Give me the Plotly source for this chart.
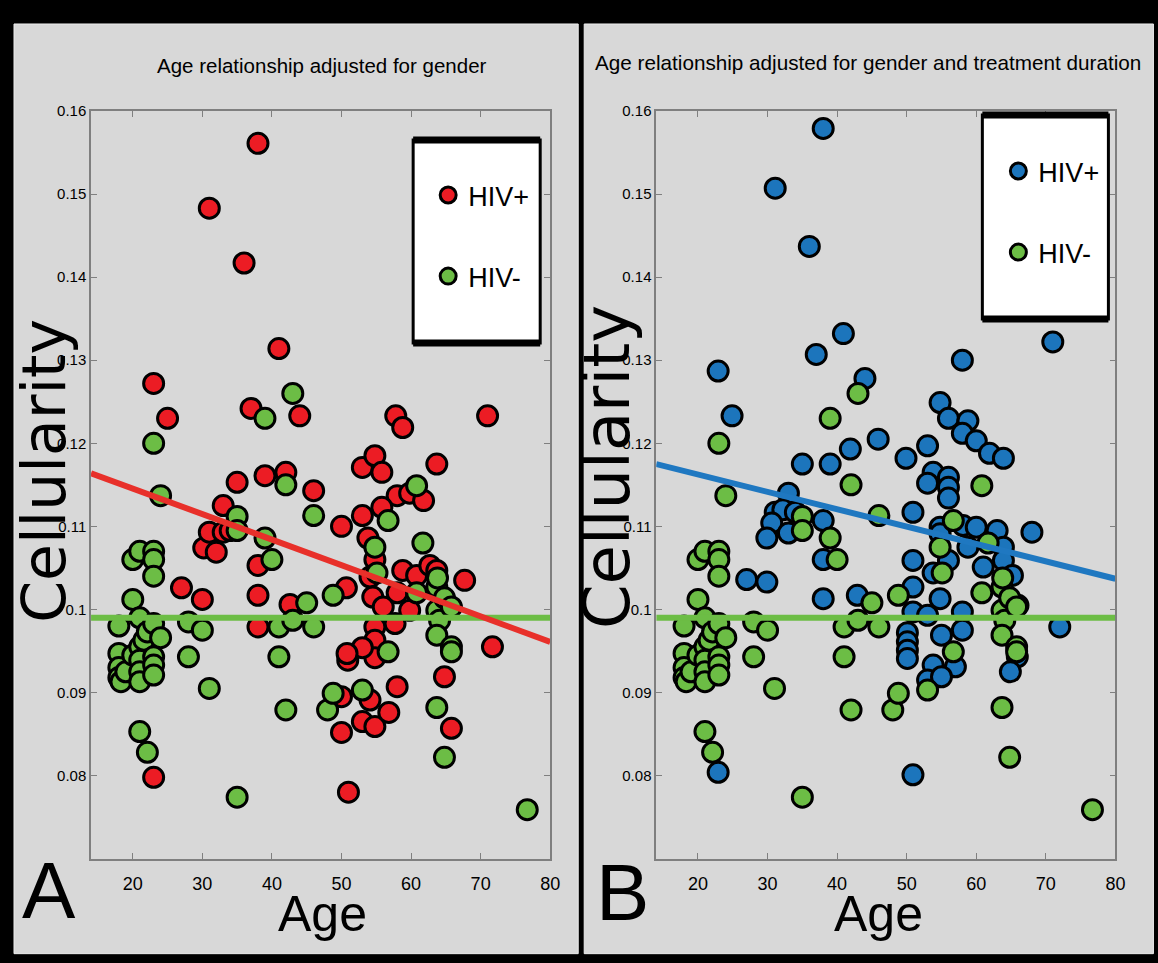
import plotly.graph_objects as go

# ---------------- data ----------------
# HIV- subjects (same in both panels)
age_hiv_neg = [18, 18, 18, 18, 18.3, 19, 20, 20, 20, 21, 21, 21, 21, 21, 21, 21,
               21.6, 22.1, 22.1, 23, 23, 23, 23, 23, 23, 23, 23, 24, 24, 28, 28,
               30, 31, 35, 35, 35, 39, 39, 40, 41, 41, 42, 42, 43, 43, 45, 46, 46,
               48, 48.8, 48.8, 53, 54.8, 55.1, 56.7, 56.7, 60.8, 60.8, 61.7, 63.7,
               63.8, 63.7, 64.1, 63.7, 63.7, 64.8, 65.8, 65.8, 65.8, 64.8, 76.7]
cell_hiv_neg = [0.098, 0.0947, 0.093, 0.0918, 0.0913, 0.0925, 0.106, 0.1012, 0.0945,
                0.107, 0.099, 0.0955, 0.0939, 0.0925, 0.0913, 0.0853, 0.0963, 0.0973,
                0.0828, 0.120, 0.107, 0.106, 0.104, 0.0983, 0.0943, 0.0933, 0.0921,
                0.1137, 0.0966, 0.0985, 0.0943, 0.0975, 0.0905, 0.1112, 0.1095, 0.0774,
                0.123, 0.1086, 0.106, 0.0979, 0.0943, 0.115, 0.0879, 0.126, 0.0987,
                0.1008, 0.1113, 0.0979, 0.0879, 0.1017, 0.0899, 0.0903, 0.1075, 0.1044,
                0.1107, 0.0949, 0.1149, 0.102, 0.108, 0.1027, 0.1038, 0.0999, 0.0987,
                0.0969, 0.0882, 0.1014, 0.1003, 0.0955, 0.0949, 0.0822, 0.0759]

# HIV+ subjects, panel A (adjusted for gender)
age_hiv_pos_a = [38, 31, 36, 41, 23, 25, 37, 44, 35, 39, 42, 46, 50, 33, 30.2, 31,
                 32, 33, 34, 38, 38, 27, 30, 42.6, 50.7, 38, 23, 50, 50.9, 50, 51,
                 71, 57.8, 58.8, 53, 54.8, 55.8, 63.7, 58, 59.8, 61.8, 55.8, 53, 53.8,
                 54.8, 58.8, 60.8, 62.7, 63.7, 67.7, 54.1, 54.5, 58, 56, 59.8, 71.7,
                 54.8, 54.8, 54.8, 53, 57.7, 50.8, 54.1, 58, 53, 54.8, 56.8, 64.8, 65.8]
cell_hiv_pos_a = [0.1561, 0.1483, 0.1417, 0.1314, 0.1272, 0.123, 0.1242, 0.1233, 0.1153,
                  0.1161, 0.1165, 0.1143, 0.110, 0.1125, 0.1074, 0.1093, 0.1069, 0.1093,
                  0.1095, 0.1053, 0.1017, 0.1026, 0.1012, 0.1006, 0.1026, 0.0979, 0.0798,
                  0.0895, 0.0939, 0.0852, 0.078, 0.1233, 0.1233, 0.1219, 0.1171, 0.1185,
                  0.1165, 0.1175, 0.1137, 0.114, 0.1131, 0.1123, 0.1113, 0.1086, 0.106,
                  0.1047, 0.1041, 0.1053, 0.1047, 0.1035, 0.1039, 0.1015, 0.102, 0.1003,
                  0.0999, 0.0955, 0.0979, 0.0963, 0.0942, 0.0954, 0.0983, 0.0947, 0.0891,
                  0.0907, 0.0865, 0.0859, 0.0876, 0.0919, 0.0857]

# HIV+ subjects, panel B (adjusted for gender and treatment duration)
age_hiv_pos_b = [38, 31.1, 36, 40.9, 71, 37, 58, 22.9, 44, 54.8, 24.9, 56, 58.8, 58,
                 45.9, 60, 41.9, 53, 61.9, 63.9, 49.9, 35, 39, 53.8, 56, 53, 56, 33,
                 56, 31.1, 32.2, 34, 50.9, 38, 30.6, 58.1, 60, 54.8, 63, 68, 33, 54.8,
                 29.9, 58.8, 63.9, 38, 56, 63.9, 50.9, 61, 53.8, 65.2, 27, 29.9, 50.9,
                 38, 42.9, 54.8, 66, 50.9, 53, 58, 58, 72, 50.1, 50.1, 50.1, 50.1, 55,
                 57, 53.8, 53, 55, 65.9, 64.9, 22.9, 50.9]
cell_hiv_pos_b = [0.1579, 0.1507, 0.1437, 0.1332, 0.1322, 0.1307, 0.130, 0.1287, 0.1278,
                  0.1249, 0.1233, 0.123, 0.1227, 0.1212, 0.1205, 0.1203, 0.1193, 0.1197,
                  0.1188, 0.1182, 0.1182, 0.1175, 0.1175, 0.1165, 0.1159, 0.1152, 0.1147,
                  0.114, 0.1134, 0.1117, 0.112, 0.1117, 0.1117, 0.1107, 0.1104, 0.1101,
                  0.1099, 0.1099, 0.1095, 0.1093, 0.1092, 0.1091, 0.1086, 0.1075, 0.1075,
                  0.106, 0.1059, 0.1059, 0.1059, 0.1051, 0.1044, 0.1041, 0.1036, 0.1033,
                  0.1027, 0.1013, 0.1017, 0.1013, 0.1005, 0.0997, 0.0993, 0.0997, 0.0975,
                  0.0979, 0.0972, 0.0961, 0.0951, 0.0941, 0.0969, 0.0931, 0.0933, 0.0915,
                  0.0919, 0.0943, 0.0925, 0.0804, 0.0801]

# fitted relationships (end points across the age axis)
fit_age = [14, 80]
fit_hiv_pos_a = [0.1164, 0.0961]
fit_hiv_pos_b = [0.1175, 0.1037]
fit_hiv_neg = [0.099, 0.099]

x_ticks = [20, 30, 40, 50, 60, 70, 80]
y_ticks = [0.08, 0.09, 0.10, 0.11, 0.12, 0.13, 0.14, 0.15, 0.16]
y_tick_text = ["0.08", "0.09", "0.1", "0.11", "0.12", "0.13", "0.14", "0.15", "0.16"]

panel_titles = ["Age relationship adjusted for gender",
                "Age relationship adjusted for gender and treatment duration"]

# ---------------- styling ----------------
W, H = 1158, 963
S, OY = 0.991, 8.0   # compensation for the capture's slight scale / offset
NARROW = "Liberation Sans, Arial, sans-serif"
WIDE = "DejaVu Sans, Verdana, sans-serif"
RED = "#ec1c24"
GREEN = "#6cbd45"
BLUE = "#1c75bc"


def px(x):
    return (x / S) / W


def py(y):
    return 1 - ((y - OY) / S) / H


fig = go.Figure()


def marker(color):
    return dict(symbol="circle", size=20, color=color, line=dict(color="black", width=3))


# panel A
fig.add_trace(go.Scatter(x=age_hiv_pos_a, y=cell_hiv_pos_a, mode="markers", name="HIV+",
                         marker=marker(RED), xaxis="x", yaxis="y",
                         legend="legend", legendgroup="posA"))
fig.add_trace(go.Scatter(x=age_hiv_neg, y=cell_hiv_neg, mode="markers", name="HIV-",
                         marker=marker(GREEN), xaxis="x", yaxis="y",
                         legend="legend", legendgroup="negA"))
fig.add_trace(go.Scatter(x=fit_age, y=fit_hiv_neg, mode="lines", showlegend=False,
                         line=dict(color=GREEN, width=6), xaxis="x", yaxis="y"))
fig.add_trace(go.Scatter(x=fit_age, y=fit_hiv_pos_a, mode="lines", showlegend=False,
                         line=dict(color="#e8302a", width=6), xaxis="x", yaxis="y"))

# panel B
fig.add_trace(go.Scatter(x=age_hiv_pos_b, y=cell_hiv_pos_b, mode="markers", name="HIV+",
                         marker=marker(BLUE), xaxis="x2", yaxis="y2",
                         legend="legend2", legendgroup="posB"))
fig.add_trace(go.Scatter(x=age_hiv_neg, y=cell_hiv_neg, mode="markers", name="HIV-",
                         marker=marker(GREEN), xaxis="x2", yaxis="y2",
                         legend="legend2", legendgroup="negB"))
fig.add_trace(go.Scatter(x=fit_age, y=fit_hiv_neg, mode="lines", showlegend=False,
                         line=dict(color=GREEN, width=6), xaxis="x2", yaxis="y2"))
fig.add_trace(go.Scatter(x=fit_age, y=fit_hiv_pos_b, mode="lines", showlegend=False,
                         line=dict(color="#1f78c1", width=6), xaxis="x2", yaxis="y2"))

AX_COLOR = "#7f7f7f"
xcommon = dict(range=[14, 80], tickmode="array", tickvals=x_ticks, ticks="inside",
               ticklen=6, tickcolor=AX_COLOR, showline=True, linecolor=AX_COLOR,
               linewidth=1.5, mirror="ticks", showgrid=False, zeroline=False,
               ticklabelstandoff=8,
               tickfont=dict(family=NARROW, size=18, color="black"))
ycommon = dict(range=[0.07, 0.16], tickmode="array", tickvals=y_ticks, ticktext=y_tick_text,
               ticks="inside", ticklen=6, tickcolor=AX_COLOR, showline=True,
               linecolor=AX_COLOR, linewidth=1.5, mirror="ticks", showgrid=False,
               zeroline=False, tickfont=dict(family=NARROW, size=15, color="black"))

y_dom = [py(858), py(110)]
fig.update_layout(
    width=W, height=H, margin=dict(l=0, r=0, t=0, b=0),
    paper_bgcolor="black", plot_bgcolor="white",
    xaxis=dict(domain=[px(91), px(550)], anchor="y", **xcommon),
    yaxis=dict(domain=y_dom, anchor="x", **ycommon),
    xaxis2=dict(domain=[px(656), px(1115)], anchor="y2", **xcommon),
    yaxis2=dict(domain=y_dom, anchor="x2", **ycommon),
    legend=dict(x=px(428), y=py(170), xanchor="left", yanchor="top",
                bgcolor="rgba(0,0,0,0)", borderwidth=0, traceorder="grouped",
                tracegroupgap=43, font=dict(family=NARROW, size=27, color="black"),
                itemsizing="trace"),
    legend2=dict(x=px(998), y=py(146), xanchor="left", yanchor="top",
                 bgcolor="rgba(0,0,0,0)", borderwidth=0, traceorder="grouped",
                 tracegroupgap=43, font=dict(family=NARROW, size=27, color="black"),
                 itemsizing="trace"),
)

shapes = []
# gray panels
for x0, x1 in [(14, 578), (584, 1153)]:
    shapes.append(dict(type="rect", xref="paper", yref="paper", x0=px(x0), x1=px(x1),
                       y0=py(953), y1=py(23), fillcolor="#d8d8d8",
                       line=dict(color="#ededed", width=1), layer="below"))
# legend boxes
for x0, x1, y0, y1 in [(413, 540, 139, 342), (982, 1108, 114, 318)]:
    shapes.append(dict(type="rect", xref="paper", yref="paper", x0=px(x0), x1=px(x1),
                       y0=py(y1), y1=py(y0), fillcolor="white",
                       line=dict(color="black", width=3), layer="above"))
    for yy in (y0, y1):
        shapes.append(dict(type="line", xref="paper", yref="paper", x0=px(x0), x1=px(x1),
                           y0=py(yy), y1=py(yy), line=dict(color="black", width=7),
                           layer="above"))
fig.update_layout(shapes=shapes)

ann = []
ann.append(dict(text=panel_titles[0], x=px(322), y=py(65), font=dict(family=NARROW, size=20.5)))
ann.append(dict(text=panel_titles[1], x=px(868), y=py(62), font=dict(family=NARROW, size=20.7)))
ann.append(dict(text="Age", x=px(322), y=py(913), font=dict(family=NARROW, size=50)))
ann.append(dict(text="Age", x=px(878), y=py(913), font=dict(family=NARROW, size=50)))
ann.append(dict(text="A", x=px(49), y=py(890), font=dict(family=NARROW, size=80)))
ann.append(dict(text="B", x=px(622), y=py(892), font=dict(family=NARROW, size=80)))
ann.append(dict(text="Cellularity", x=px(44), y=py(470), textangle=-90,
                font=dict(family=WIDE, size=60)))
ann.append(dict(text="Cellularity", x=px(607), y=py(466), textangle=-90,
                font=dict(family=WIDE, size=64)))
for a in ann:
    a.update(xref="paper", yref="paper", showarrow=False, xanchor="center",
             yanchor="middle")
    a["font"]["color"] = "black"
fig.update_layout(annotations=ann)

fig.write_html(
    "out.html",
    config={"displayModeBar": False},
    post_script=(
        "document.documentElement.style.margin='0';"
        "document.documentElement.style.overflow='hidden';"
        "document.body.style.margin='0';document.body.style.padding='0';"
        "document.body.style.overflow='hidden';"
        "var d=document.getElementById('{plot_id}');"
        "d.style.position='fixed';d.style.left='0px';d.style.top='0px';"
    ),
)
